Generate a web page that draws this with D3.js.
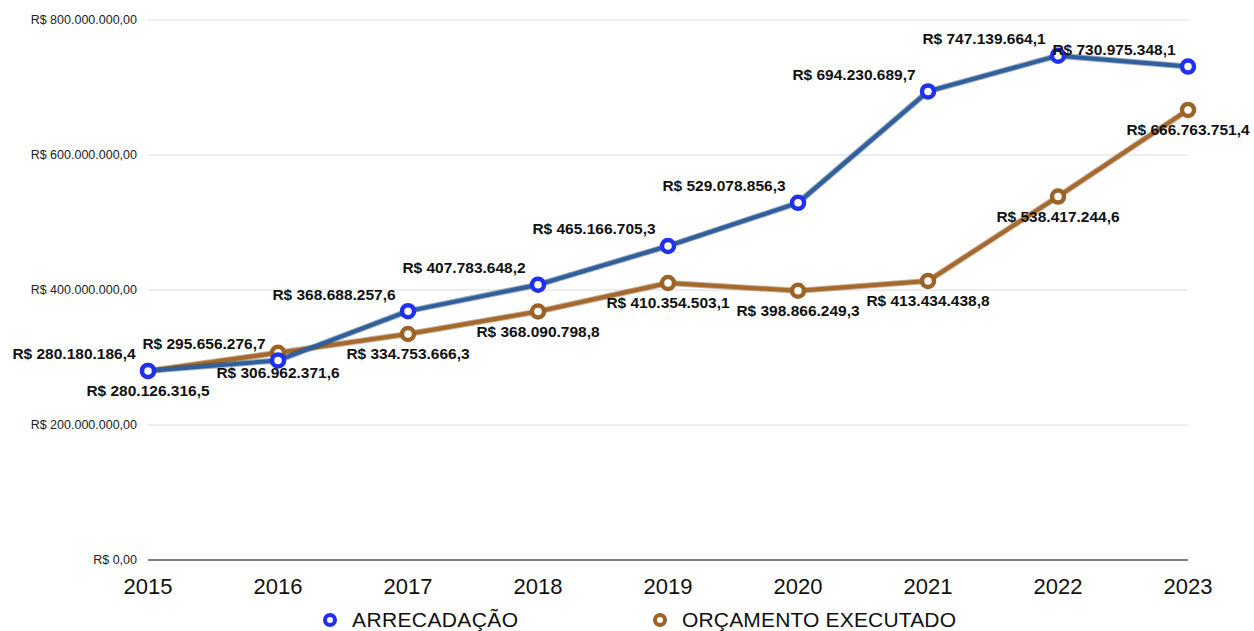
<!DOCTYPE html>
<html>
<head>
<meta charset="utf-8">
<script src="https://cdn.jsdelivr.net/npm/d3@7"></script>
<style>
  body { margin: 0; background: #fff; }
  text { font-family: "Liberation Sans", Arial, sans-serif; }
</style>
</head>
<body>
<div class="chart"></div>
<script>
// data
const years = [2015, 2016, 2017, 2018, 2019, 2020, 2021, 2022, 2023];
const arrecadacao = [280180186.4, 295656276.7, 368688257.6, 407783648.2, 465166705.3, 529078856.3, 694230689.7, 747139664.1, 730975348.1];
const orcamento = [280126316.5, 306962371.6, 334753666.3, 368090798.8, 410354503.1, 398866249.3, 413434438.8, 538417244.6, 666763751.4];
const yTicks = [0, 200000000, 400000000, 600000000, 800000000];

const W = 1254, H = 631;
const margin = { left: 148, right: 66, top: 20, bottom: 71 };

const svg = d3.select(".chart").append("svg")
    .attr("width", W)
    .attr("height", H);

const x = d3.scalePoint()
    .domain(years)
    .range([margin.left, W - margin.right]);

const y = d3.scaleLinear()
    .domain([0, 800000000])
    .range([H - margin.bottom, margin.top]);

const brl = d3.formatLocale({ decimal: ",", thousands: ".", grouping: [3], currency: ["R$ ", ""] });
const fmtTick = v => "R$ " + brl.format(",.2f")(v);
const fmtVal = v => "R$ " + brl.format(",.1f")(v);

// grid + y labels
svg.append("g")
    .selectAll("line")
    .data(yTicks)
    .join("line")
    .attr("x1", margin.left)
    .attr("x2", W - margin.right)
    .attr("y1", d => y(d))
    .attr("y2", d => y(d))
    .attr("stroke", d => d === 0 ? "#555" : "#dcdcdc")
    .attr("stroke-width", d => d === 0 ? 1.5 : 1);

svg.append("g")
    .selectAll("text")
    .data(yTicks)
    .join("text")
    .attr("x", margin.left - 11)
    .attr("y", d => y(d))
    .attr("dy", "0.35em")
    .attr("text-anchor", "end")
    .attr("font-size", 12.5)
    .attr("fill", "#222")
    .text(fmtTick);

// x axis labels
svg.append("g")
    .selectAll("text")
    .data(years)
    .join("text")
    .attr("x", d => x(d))
    .attr("y", 594)
    .attr("text-anchor", "middle")
    .attr("font-size", 22)
    .attr("fill", "#111")
    .text(d => d);

const series = [
    { name: "ARRECADAÇÃO", values: arrecadacao, line: "#2f5f9c", edge: "#1d3f6e", ring: "#1f30f0", dx: -74, dy: -17 },
    { name: "ORÇAMENTO EXECUTADO", values: orcamento, line: "#a6692b", edge: "#7a4a1c", ring: "#9c6226", dx: 0, dy: 20 }
];

const line = d3.line()
    .x((d, i) => x(years[i]))
    .y(d => y(d));

// orange first, blue on top
[series[1], series[0]].forEach(s => {
    const g = svg.append("g");
    g.append("path")
        .attr("d", line(s.values))
        .attr("fill", "none")
        .attr("stroke", s.edge)
        .attr("stroke-width", 6)
        .attr("stroke-opacity", 0.45)
        .attr("stroke-linejoin", "round");
    g.append("path")
        .attr("d", line(s.values))
        .attr("fill", "none")
        .attr("stroke", s.line)
        .attr("stroke-width", 4)
        .attr("stroke-linejoin", "round");
    g.selectAll("circle")
        .data(s.values)
        .join("circle")
        .attr("cx", (d, i) => x(years[i]))
        .attr("cy", d => y(d))
        .attr("r", 6)
        .attr("fill", "#fff")
        .attr("stroke", s.ring)
        .attr("stroke-width", 4.5);
});

// value labels
series.forEach(s => {
    svg.append("g")
        .selectAll("text")
        .data(s.values)
        .join("text")
        .attr("x", (d, i) => x(years[i]) + s.dx)
        .attr("y", d => y(d) + s.dy)
        .attr("dy", "0.35em")
        .attr("text-anchor", "middle")
        .attr("font-size", 15.5)
        .attr("font-weight", "bold")
        .attr("fill", "#111")
        .text(fmtVal);
});

// legend
const legendX = [330, 660];
series.forEach((s, i) => {
    const lg = svg.append("g").attr("transform", `translate(${legendX[i]}, 620)`);
    lg.append("circle")
        .attr("r", 5)
        .attr("fill", "#fff")
        .attr("stroke", s.ring)
        .attr("stroke-width", 4);
    lg.append("text")
        .attr("x", 22)
        .attr("dy", "0.35em")
        .attr("font-size", 21)
        .attr("textLength", i === 0 ? 166 : 274)
        .attr("fill", "#111")
        .text(s.name);
});
</script>
</body>
</html>
